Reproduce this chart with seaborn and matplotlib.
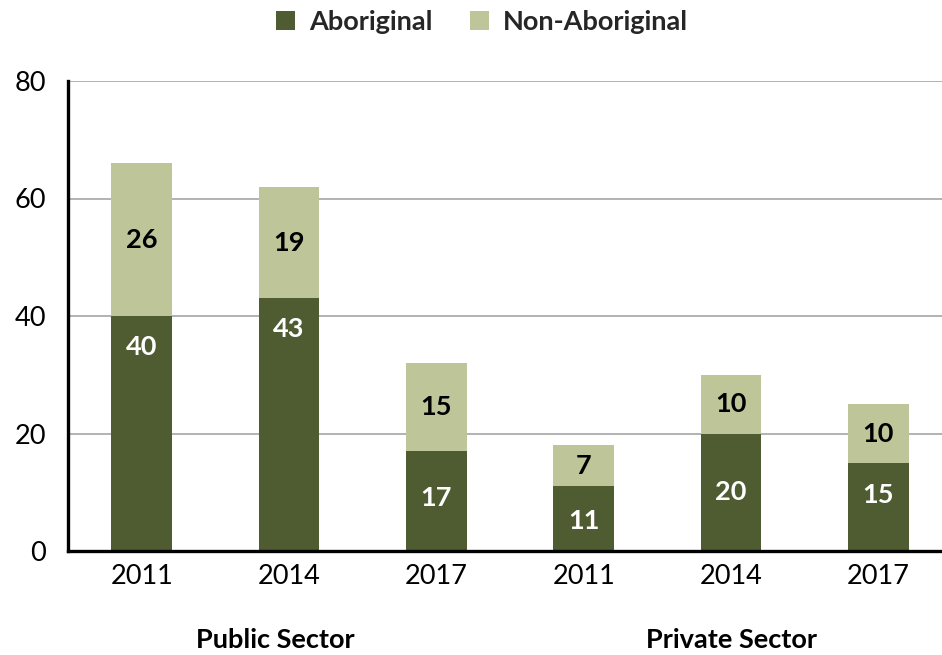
import matplotlib
matplotlib.use("Agg")
import matplotlib.pyplot as plt
import pandas as pd
import seaborn as sns
from matplotlib.patches import Patch

# Survey results by sector and year
sectors = ["Public Sector"] * 3 + ["Private Sector"] * 3
years = ["2011", "2014", "2017", "2011", "2014", "2017"]
aboriginal = [40, 43, 17, 11, 20, 15]
non_aboriginal = [26, 19, 15, 7, 10, 10]
y_ticks = [0, 20, 40, 60, 80]
group_names = ["Public Sector", "Private Sector"]

DARK = "#4f5b31"
LIGHT = "#bec699"
FS = 19.5

sns.set_theme(style="white")
plt.rcParams["font.family"] = ["Lato", "DejaVu Sans"]

df = pd.DataFrame({
    "sector": sectors,
    "year": years,
    "aboriginal": aboriginal,
    "non_aboriginal": non_aboriginal,
})
df["slot"] = df["sector"] + " " + df["year"]
df["total"] = df["aboriginal"] + df["non_aboriginal"]

W, H = 942, 655
fig = plt.figure(figsize=(W / 100, H / 100), dpi=100)
ax = fig.add_axes([68 / W, (H - 551) / H, 884 / W, 470 / H])

# stacked bars: full total in light, Aboriginal share drawn over it in dark
sns.barplot(data=df, x="slot", y="total", color=LIGHT, saturation=1,
            width=0.41, errorbar=None, ax=ax, zorder=3, linewidth=0)
sns.barplot(data=df, x="slot", y="aboriginal", color=DARK, saturation=1,
            width=0.41, errorbar=None, ax=ax, zorder=3, linewidth=0)

# value labels
label_drop_px = [31, 31, 47, 35, 59, 32]
for i, row in df.iterrows():
    ax.text(i, row["aboriginal"] + row["non_aboriginal"] / 2,
            str(row["non_aboriginal"]), ha="center", va="center",
            fontsize=FS, fontweight="bold", color="black", zorder=4)
    ax.annotate(str(row["aboriginal"]), xy=(i, row["aboriginal"]),
                xytext=(0, -label_drop_px[i]), textcoords="offset pixels",
                ha="center", va="center", fontsize=FS, fontweight="bold",
                color="white", zorder=4)

ax.set_ylim(0, 80)
ax.set_xlim(-0.5, 5.5)
ax.set_yticks(y_ticks)
ax.set_yticklabels([str(t) for t in y_ticks], fontsize=FS)
ax.set_xticks(range(len(years)))
ax.set_xticklabels(years, fontsize=FS)
ax.set_xlabel("")
ax.set_ylabel("")
ax.tick_params(axis="both", length=0, colors="black")
ax.tick_params(axis="y", pad=16)
ax.tick_params(axis="x", pad=9)

ax.yaxis.grid(True, color="#a6a6a6", linewidth=1.2, zorder=0)
ax.set_axisbelow(True)
for side in ["top", "right"]:
    ax.spines[side].set_visible(False)
for side in ["left", "bottom"]:
    ax.spines[side].set_color("black")
    ax.spines[side].set_linewidth(2.4)
    ax.spines[side].set_zorder(5)

# sector group labels under the year ticks
for name, xpx in zip(group_names, [275, 731]):
    fig.text(xpx / W, 1 - 640 / H, name, ha="center", va="center",
             fontsize=FS, fontweight="bold", color="black")

handles = [Patch(facecolor=DARK, edgecolor="none", label="Aboriginal"),
           Patch(facecolor=LIGHT, edgecolor="none", label="Non-Aboriginal")]
fig.legend(handles=handles, loc="center", bbox_to_anchor=(482 / W, 1 - 22 / H),
           ncol=2, frameon=False, handlelength=0.7, handleheight=0.7,
           handletextpad=0.5, columnspacing=1.4,
           prop={"size": FS, "weight": "bold"})

fig.savefig("out.png", dpi=100, facecolor="white")
